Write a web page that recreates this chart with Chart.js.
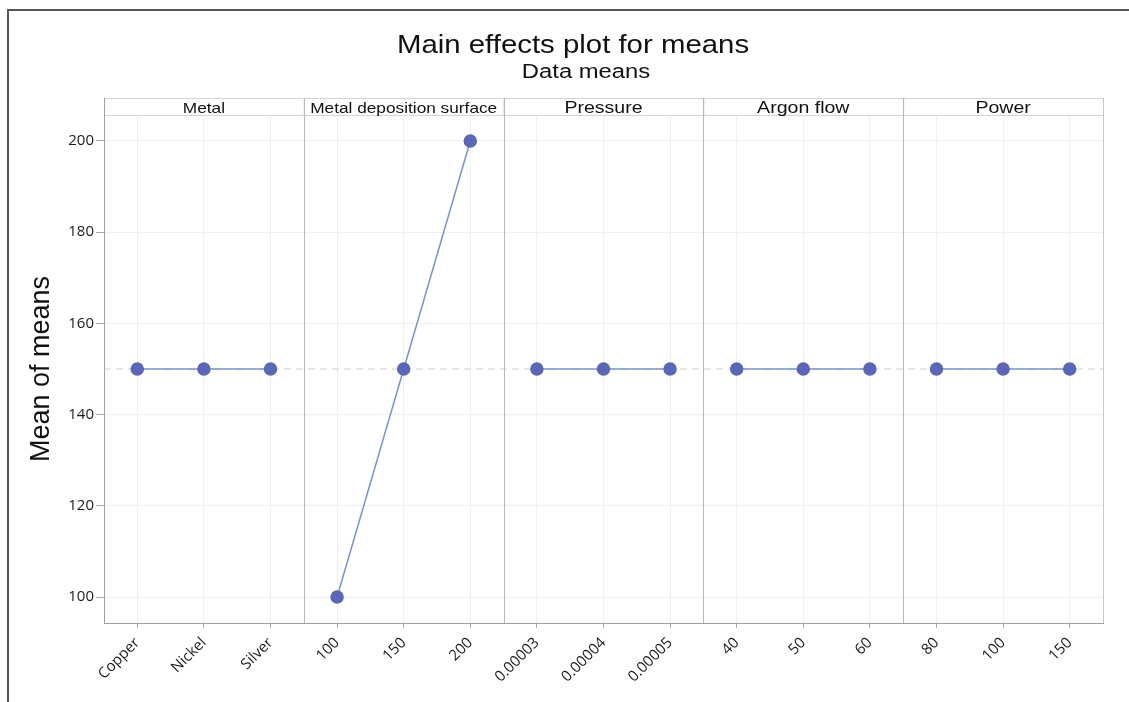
<!DOCTYPE html>
<html>
<head>
<meta charset="utf-8">
<script src="https://cdn.jsdelivr.net/npm/chart.js@4"></script>
<style>
  html, body { margin: 0; padding: 0; background: #fff; }
  #wrap { width: 1129px; height: 702px; position: relative; }
</style>
</head>
<body>
<div id="wrap"><canvas id="chart" width="1129" height="702"></canvas></div>
<script>
// factors and their levels
const factorNames = ["Metal", "Metal deposition surface", "Pressure", "Argon flow", "Power"];
const metalLevels = ["Copper", "Nickel", "Silver"];
const surfaceLevels = ["100", "150", "200"];
const pressureLevels = ["0.00003", "0.00004", "0.00005"];
const argonLevels = ["40", "50", "60"];
const powerLevels = ["80", "100", "150"];

// means
const metalMeans = [150, 150, 150];
const surfaceMeans = [100, 150, 200];
const pressureMeans = [150, 150, 150];
const argonMeans = [150, 150, 150];
const powerMeans = [150, 150, 150];

const yTicks = [100, 120, 140, 160, 180, 200];
const grandMean = 150;

const allLevels = [metalLevels, surfaceLevels, pressureLevels, argonLevels, powerLevels];
const allMeans = [metalMeans, surfaceMeans, pressureMeans, argonMeans, powerMeans];
const stripFontSizes = [15, 15, 17, 17, 17];

const labels = [].concat(...allLevels);

// one dataset per panel, nulls elsewhere so the lines don't join up
const datasets = allMeans.map(function(means, i) {
  const data = labels.map(() => null);
  means.forEach(function(v, j) { data[i * 3 + j] = v; });
  return {
    label: factorNames[i],
    data: data,
    borderColor: "#7592da",
    borderWidth: 1.5,
    pointBackgroundColor: "#5a67b8",
    pointBorderColor: "#5a67b8",
    pointRadius: 6,
    spanGaps: false,
    tension: 0
  };
});

// the source picture is a bit wider than tall, so stretch drawn text a little
function wideText(ctx, text, cx, baseline, font, sx) {
  ctx.save();
  ctx.translate(cx, baseline);
  ctx.scale(sx, 1);
  ctx.font = font;
  ctx.textAlign = "center";
  ctx.textBaseline = "alphabetic";
  ctx.fillText(text, 0, 0);
  ctx.restore();
}

// panel strips, dividers, reference line, titles and frame
const panelPlugin = {
  id: "panels",
  beforeDatasetsDraw(chart) {
    const ctx = chart.ctx;
    const area = chart.chartArea;
    const y = chart.scales.y.getPixelForValue(grandMean);
    ctx.save();
    ctx.strokeStyle = "#cfcfcf";
    ctx.lineWidth = 1;
    ctx.setLineDash([7, 5]);
    ctx.beginPath();
    ctx.moveTo(area.left, y);
    ctx.lineTo(area.right, y);
    ctx.stroke();
    ctx.restore();
  },
  afterDraw(chart) {
    const ctx = chart.ctx;
    const area = chart.chartArea;
    const n = factorNames.length;
    const w = (area.right - area.left) / n;
    const stripTop = area.top - 17;
    ctx.save();

    // strips
    factorNames.forEach(function(name, i) {
      const x0 = area.left + i * w;
      ctx.fillStyle = "#ffffff";
      ctx.fillRect(x0, stripTop, w, 17);
      ctx.strokeStyle = "#d4d4d4";
      ctx.lineWidth = 1;
      ctx.strokeRect(x0 + 0.5, stripTop + 0.5, w, 17);
      ctx.fillStyle = "#111";
      wideText(ctx, name, x0 + w / 2, stripTop + 15,
        stripFontSizes[i] + "px 'Liberation Sans', Arial, sans-serif", 1.15);
    });

    // panel dividers
    ctx.strokeStyle = "#b8b8b8";
    for (let i = 1; i < n; i++) {
      const x = Math.round(area.left + i * w) + 0.5;
      ctx.beginPath();
      ctx.moveTo(x, stripTop);
      ctx.lineTo(x, area.bottom);
      ctx.stroke();
    }
    // right and left edges of the box
    ctx.strokeStyle = "#c8c8c8";
    ctx.beginPath();
    ctx.moveTo(area.right + 0.5, stripTop);
    ctx.lineTo(area.right + 0.5, area.bottom);
    ctx.stroke();
    ctx.strokeStyle = "#a0a0a0";
    ctx.beginPath();
    ctx.moveTo(area.left + 0.5, stripTop);
    ctx.lineTo(area.left + 0.5, area.bottom);
    ctx.stroke();

    // titles
    ctx.fillStyle = "#111";
    wideText(ctx, "Main effects plot for means", 573, 53, "26px 'Liberation Sans', Arial, sans-serif", 1.13);
    wideText(ctx, "Data means", 586, 78, "20px 'Liberation Sans', Arial, sans-serif", 1.19);

    // outer frame (left and top only)
    ctx.strokeStyle = "#555";
    ctx.lineWidth = 2;
    ctx.beginPath();
    ctx.moveTo(8, 702);
    ctx.lineTo(8, 10);
    ctx.lineTo(1129, 10);
    ctx.stroke();
    ctx.restore();
  }
};

new Chart(document.getElementById("chart").getContext("2d"), {
  type: "line",
  data: { labels: labels, datasets: datasets },
  plugins: [panelPlugin],
  options: {
    responsive: false,
    animation: false,
    layout: { padding: { top: 115, right: 26, bottom: 0, left: 0 } },
    plugins: {
      legend: { display: false },
      tooltip: { enabled: false }
    },
    scales: {
      x: {
        type: "category",
        offset: true,
        grid: { offset: false, color: "#efefef", tickColor: "#a8a8a8", tickLength: 5 },
        border: { color: "#a0a0a0" },
        ticks: {
          autoSkip: false,
          minRotation: 45,
          maxRotation: 45,
          padding: 6,
          color: "#1a1a1a",
          font: { family: "'Open Sans', sans-serif", size: 15 }
        },
        afterFit(scale) { scale.height = 79; }
      },
      y: {
        min: 94.3,
        max: 205.7,
        afterBuildTicks(scale) { scale.ticks = yTicks.map(v => ({ value: v })); },
        grid: { color: "#efefef", tickColor: "#a8a8a8", tickLength: 8 },
        border: { color: "#a0a0a0" },
        ticks: {
          padding: 2,
          color: "#1a1a1a",
          font: { family: "'Open Sans', sans-serif", size: 15 }
        },
        title: {
          display: true,
          text: "Mean of means",
          color: "#111",
          font: { family: "'Liberation Sans', Arial, sans-serif", size: 27 },
          padding: { top: 25, bottom: 0 }
        },
        afterFit(scale) { scale.width = 104; }
      }
    }
  }
});
</script>
</body>
</html>
